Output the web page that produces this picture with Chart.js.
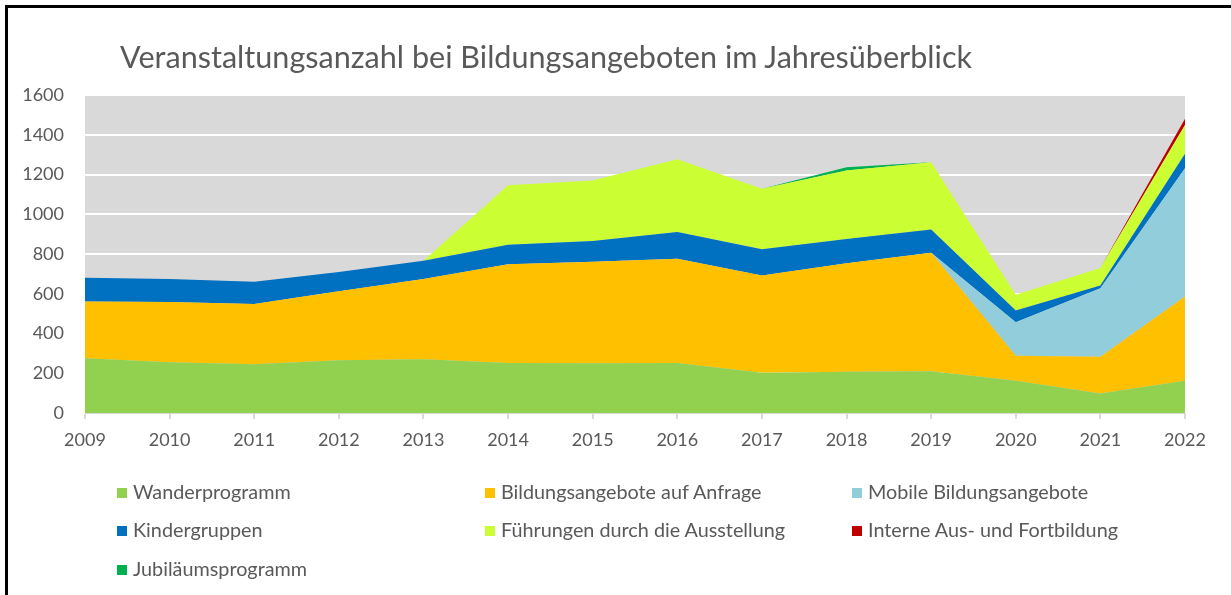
<!DOCTYPE html>
<html>
<head>
<meta charset="utf-8">
<script src="https://cdn.jsdelivr.net/npm/chart.js@4.4.1/dist/chart.umd.min.js"></script>
<style>
  html, body { margin: 0; padding: 0; background: #ffffff; }
  #wrap { position: relative; width: 1231px; height: 595px; overflow: hidden; background: #fff; font-family: Lato, "Open Sans", sans-serif; }
  #c { position: absolute; left: 0; top: 0; }
  #frame { position: absolute; left: 5px; top: 5px; width: 1300px; height: 700px; border-left: 3px solid #000; border-top: 3px solid #000; box-sizing: border-box; pointer-events: none; }
  #title { position: absolute; left: 120px; top: 38px; white-space: nowrap; color: #595959; font-size: 28px; line-height: 38px; }
  #legend { position: absolute; left: 0; top: 0; width: 1231px; height: 595px; pointer-events: none; }
  .li { position: absolute; white-space: nowrap; color: #595959; font-size: 19.8px; line-height: 24px; }
  .li .sw { display: inline-block; width: 10px; height: 10px; margin-right: 6px; vertical-align: 1px; }
</style>
</head>
<body>
<div id="wrap">
  <canvas id="c" width="1231" height="595"></canvas>
  <div id="title">Veranstaltungsanzahl bei Bildungsangeboten im Jahresüberblick</div>
  <div id="legend"></div>
  <div id="frame"></div>
</div>
<script>
const years = ['2009','2010','2011','2012','2013','2014','2015','2016','2017','2018','2019','2020','2021','2022'];
const yTicks = [0, 200, 400, 600, 800, 1000, 1200, 1400, 1600];

const wanderprogramm   = [275, 255, 245, 265, 270, 252, 250, 252, 203, 207, 210, 162,  98, 162];
const anfrage          = [286, 303, 304, 347, 404, 497, 511, 524, 489, 547, 596, 126, 185, 424];
const mobile           = [  0,   0,   0,   0,   0,   0,   0,   0,   0,   0,   0, 168, 345, 646];
const kindergruppen    = [119, 116, 111,  97,  92,  97, 105, 135, 132, 121, 117,  60,  14,  72];
const fuehrungen       = [  0,   0,   0,   0,   0, 300, 304, 366, 304, 345, 339,  79,  87, 145];
const interne          = [  0,   0,   0,   0,   0,   0,   0,   0,   0,   0,   0,   0,   0,  31];
const jubilaeum        = [  0,   0,   0,   0,   0,   0,   0,   0,   0,  17,   0,   0,   0,   0];

const seriesNames = ['Wanderprogramm','Bildungsangebote auf Anfrage','Mobile Bildungsangebote','Kindergruppen','Führungen durch die Ausstellung','Interne Aus- und Fortbildung','Jubiläumsprogramm'];
const seriesData = [wanderprogramm, anfrage, mobile, kindergruppen, fuehrungen, interne, jubilaeum];
const seriesColors = ['#92D050','#FFC000','#92CDDC','#0070C0','#CCFF33','#C00000','#00B050'];

const datasets = seriesNames.map((name, i) => ({
  label: name,
  data: seriesData[i],
  backgroundColor: seriesColors[i],
  borderColor: seriesColors[i],
  borderWidth: 0,
  pointRadius: 0,
  tension: 0,
  fill: i === 0 ? 'origin' : '-1'
}));

const plotBg = {
  id: 'plotBg',
  beforeDraw(chart) {
    const a = chart.chartArea, ctx = chart.ctx;
    ctx.save();
    ctx.fillStyle = '#D9D9D9';
    ctx.fillRect(a.left, a.top, a.right - a.left, a.bottom - a.top);
    ctx.restore();
  }
};

const tickFont = { family: 'Lato, "Open Sans", sans-serif', size: 18 };

const chart = new Chart(document.getElementById('c'), {
  type: 'line',
  data: { labels: years, datasets },
  plugins: [plotBg],
  options: {
    responsive: false,
    animation: false,
    layout: { padding: { left: 0, top: 95, right: 46, bottom: 140 } },
    plugins: { legend: { display: false }, title: { display: false }, tooltip: { enabled: false } },
    scales: {
      x: {
        offset: false,
        grid: { display: true, drawOnChartArea: false, drawTicks: true, tickLength: 6, tickColor: '#D9D9D9', lineWidth: 2 },
        border: { display: true, color: '#D9D9D9', width: 1 },
        ticks: { color: '#595959', font: tickFont, padding: 10, maxRotation: 0, autoSkip: false },
        afterFit(s) { s.height = 42; }
      },
      y: {
        stacked: true,
        min: 0, max: 1600,
        afterBuildTicks(s) { s.ticks = yTicks.map(v => ({ value: v })); },
        grid: { color: '#FFFFFF', lineWidth: 2, drawTicks: false },
        border: { display: false },
        ticks: { color: '#595959', font: tickFont, padding: 21, callback: v => String(v) },
        afterFit(s) { s.width = 85; }
      }
    }
  }
});

// legend (HTML), built from the chart's datasets
const legend = document.getElementById('legend');
const colX = [117, 485, 852];
const rowY = [491, 529, 568];
chart.data.datasets.forEach((ds, i) => {
  const el = document.createElement('div');
  el.className = 'li';
  el.style.left = colX[i % 3] + 'px';
  el.style.top = (rowY[Math.floor(i / 3)] - 12) + 'px';
  const sw = document.createElement('span');
  sw.className = 'sw';
  sw.style.background = ds.backgroundColor;
  el.appendChild(sw);
  el.appendChild(document.createTextNode(ds.label));
  legend.appendChild(el);
});

// fit title width to the reference span
const t = document.getElementById('title');
const w = t.getBoundingClientRect().width;
t.style.fontSize = (28 * 852 / w).toFixed(2) + 'px';
</script>
</body>
</html>
